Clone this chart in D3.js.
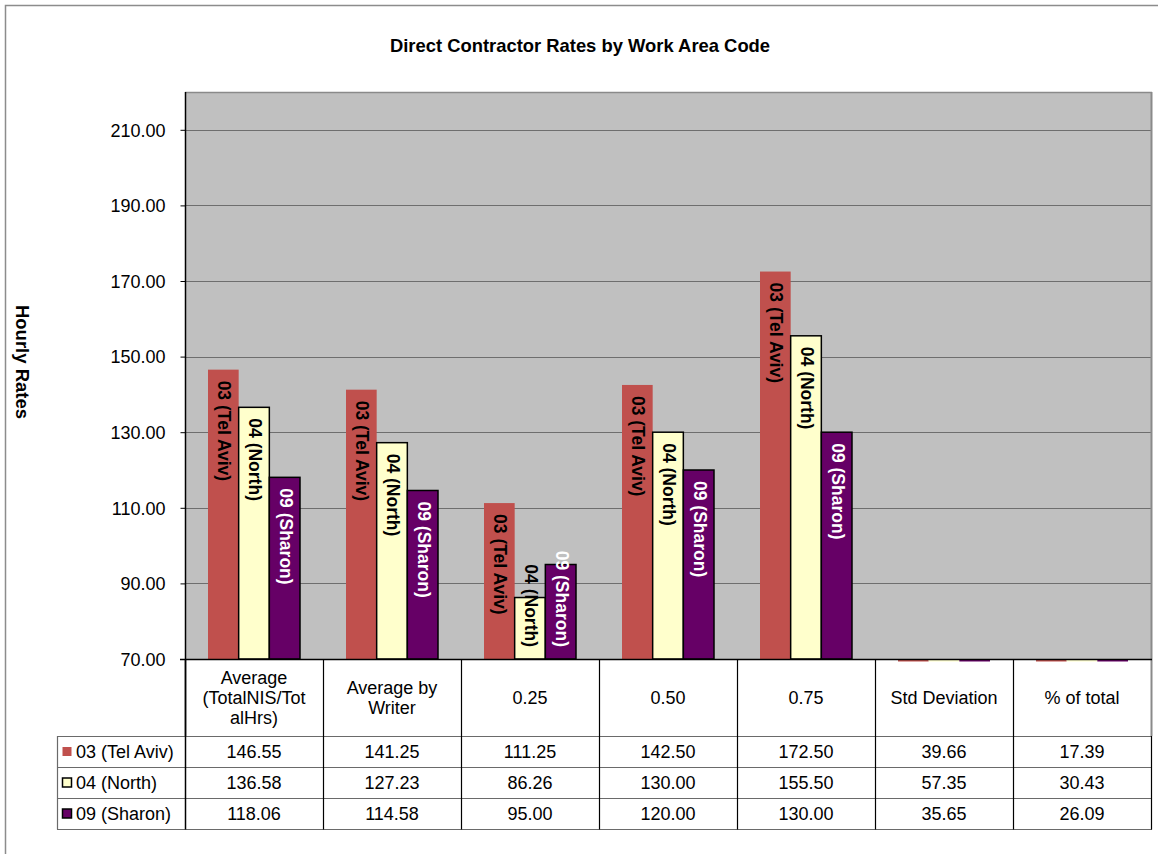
<!DOCTYPE html>
<html>
<head>
<meta charset="utf-8">
<script src="https://cdn.jsdelivr.net/npm/d3@7"></script>
<style>
  html, body { margin: 0; padding: 0; background: #fff; }
  svg { display: block; font-family: "Liberation Sans", Arial, sans-serif; }
</style>
</head>
<body>
<svg id="chart" width="1158" height="854"></svg>
<script>
// ---- data ----
const categories = ["Average (TotalNIS/TotalHrs)", "Average by Writer", "0.25", "0.50", "0.75", "Std Deviation", "% of total"];
const seriesNames = ["03 (Tel Aviv)", "04 (North)", "09 (Sharon)"];
const telAviv = [146.55, 141.25, 111.25, 142.50, 172.50, 39.66, 17.39];
const north   = [136.58, 127.23, 86.26, 130.00, 155.50, 57.35, 30.43];
const sharon  = [118.06, 114.58, 95.00, 120.00, 130.00, 35.65, 26.09];
const yTicks  = [70, 90, 110, 130, 150, 170, 190, 210];
const yDomain = [70, 220];
const title = "Direct Contractor Rates by Work Area Code";
const yTitle = "Hourly Rates";

// ---- styles ----
const colors = ["#C0504D", "#FFFFCC", "#660066"];
const strokes = ["none", "#000", "#000"];
const labelColors = ["#000", "#000", "#fff"];
const seriesValues = [telAviv, north, sharon];

const svg = d3.select("#chart");
const plot = { left: 185, right: 1151, top: 92, bottom: 659 };
const table = { legendLeft: 57, headerBottom: 736, rowH: 31 };

// outer frame
svg.append("rect").attr("x", 5.5).attr("y", 5.5).attr("width", 1170).attr("height", 870)
  .attr("fill", "#fff").attr("stroke", "#8c8c8c").attr("stroke-width", 1.5);

// title
svg.append("text").attr("x", 580).attr("y", 52)
  .attr("text-anchor", "middle").attr("font-size", 18.4).attr("font-weight", "bold")
  .text(title);

// y title
svg.append("text").attr("transform", "translate(22,362) rotate(90)")
  .attr("text-anchor", "middle").attr("dominant-baseline", "central")
  .attr("font-size", 18.5).attr("font-weight", "bold").text(yTitle);

const y = d3.scaleLinear().domain(yDomain).range([plot.bottom, plot.top]);
const x0 = d3.scaleBand().domain(categories).range([plot.left, plot.right]).paddingInner(0).paddingOuter(0);
const gapRatio = 1.5; // Excel gap width 150%
const barW = x0.bandwidth() / (seriesNames.length + gapRatio);
const x1 = d3.scaleBand().domain(seriesNames)
  .range([barW * gapRatio / 2, barW * gapRatio / 2 + barW * seriesNames.length]).padding(0);

// plot background
svg.append("rect").attr("x", plot.left).attr("y", plot.top)
  .attr("width", plot.right - plot.left).attr("height", plot.bottom - plot.top)
  .attr("fill", "#C0C0C0");

// gridlines
svg.append("g").selectAll("line").data(yTicks.filter(t => t > yDomain[0])).join("line")
  .attr("x1", plot.left).attr("x2", plot.right)
  .attr("y1", d => Math.round(y(d)) + 0.5).attr("y2", d => Math.round(y(d)) + 0.5)
  .attr("stroke", "#6e6e6e").attr("stroke-width", 1);

// plot border (top & right)
svg.append("line").attr("x1", plot.left).attr("x2", plot.right + 1).attr("y1", plot.top + 0.5).attr("y2", plot.top + 0.5)
  .attr("stroke", "#8a8a8a").attr("stroke-width", 1.5);
svg.append("line").attr("x1", plot.right + 0.5).attr("x2", plot.right + 0.5).attr("y1", plot.top).attr("y2", table.headerBottom)
  .attr("stroke", "#8a8a8a").attr("stroke-width", 2);

// y axis
const yAxis = d3.axisLeft(y).tickValues(yTicks).tickFormat(d3.format(".2f")).tickSize(5).tickPadding(15);
const gy = svg.append("g").attr("transform", `translate(${plot.left + 0.5},0)`).call(yAxis);
gy.select(".domain").remove();
gy.selectAll(".tick line").attr("stroke", "#000");
gy.selectAll(".tick text").attr("font-size", 18).attr("fill", "#000")
  .attr("font-family", "'Liberation Sans', Arial, sans-serif").attr("dy", "0.35em");

// bars
const groups = svg.append("g").selectAll("g").data(categories).join("g")
  .attr("transform", d => `translate(${x0(d)},0)`);

seriesNames.forEach((s, si) => {
  groups.append("rect")
    .attr("x", x1(s))
    .attr("width", x1.bandwidth())
    .attr("y", (d, ci) => {
      const v = seriesValues[si][ci];
      return v >= yDomain[0] ? y(v) : y(yDomain[0]);
    })
    .attr("height", (d, ci) => {
      const v = seriesValues[si][ci];
      return v >= yDomain[0] ? y(yDomain[0]) - y(v) : 2.5;
    })
    .attr("fill", colors[si])
    .attr("stroke", (d, ci) => seriesValues[si][ci] >= yDomain[0] ? strokes[si] : "none")
    .attr("stroke-width", 1.5);
});

// data labels (rotated)
seriesNames.forEach((s, si) => {
  groups.each(function (d, ci) {
    const v = seriesValues[si][ci];
    if (v < yDomain[0]) return;
    const cx = x1(s) + x1.bandwidth() / 2;
    const t = d3.select(this).append("text")
      .attr("font-size", 17.5).attr("font-weight", "bold")
      .attr("fill", labelColors[si]).attr("dominant-baseline", "central")
      .text(s);
    const len = t.node().getComputedTextLength();
    let start = y(v) + 11;
    const maxEnd = y(yDomain[0]) - 12;
    if (start + len > maxEnd) start = maxEnd - len;
    t.attr("transform", `translate(${cx + 1},${start}) rotate(90)`);
  });
});

// ---- data table ----
const nRows = seriesNames.length;
const tableBottom = table.headerBottom + nRows * table.rowH;
const hLineColor = "#6a6a6a";

// header text with wrapping
function wrapLines(text, maxW, fontSize) {
  const tmp = svg.append("text").attr("font-size", fontSize);
  const measure = s => { tmp.text(s); return tmp.node().getComputedTextLength(); };
  const words = text.split(" ");
  const lines = [];
  let cur = "";
  words.forEach(w => {
    const trial = cur ? cur + " " + w : w;
    if (measure(trial) <= maxW) { cur = trial; return; }
    if (cur) { lines.push(cur); cur = ""; }
    let piece = "";
    for (const ch of w) {
      if (measure(piece + ch) <= maxW) piece += ch;
      else { lines.push(piece); piece = ch; }
    }
    cur = piece;
  });
  if (cur) lines.push(cur);
  tmp.remove();
  return lines;
}

const headerMid = (plot.bottom + table.headerBottom) / 2;
categories.forEach(c => {
  const lines = wrapLines(c, 112, 18);
  const cx = x0(c) + x0.bandwidth() / 2;
  const t = svg.append("text").attr("text-anchor", "middle").attr("font-size", 18);
  lines.forEach((ln, i) => {
    t.append("tspan").attr("x", cx)
      .attr("y", headerMid + 6 + (i - (lines.length - 1) / 2) * 20)
      .text(ln);
  });
});

// horizontal table lines
for (let r = 0; r <= nRows; r++) {
  const yy = table.headerBottom + r * table.rowH + 0.5;
  svg.append("line").attr("x1", table.legendLeft).attr("x2", plot.right + 1)
    .attr("y1", yy).attr("y2", yy).attr("stroke", hLineColor).attr("stroke-width", 1.2);
}
// legend column left border
svg.append("line").attr("x1", table.legendLeft + 0.5).attr("x2", table.legendLeft + 0.5)
  .attr("y1", table.headerBottom).attr("y2", tableBottom + 0.5)
  .attr("stroke", hLineColor).attr("stroke-width", 1.2);

// vertical lines (category boundaries) - only in the table
const bounds = categories.map(c => x0(c)).concat([plot.right]);
bounds.forEach((bx, i) => {
  const last = i === bounds.length - 1;
  svg.append("line").attr("x1", Math.round(bx) + 0.5).attr("x2", Math.round(bx) + 0.5)
    .attr("y1", last ? table.headerBottom : plot.bottom).attr("y2", tableBottom + 0.5)
    .attr("stroke", "#000").attr("stroke-width", i === 0 ? 1.5 : 1.2);
});
// x axis line
svg.append("line").attr("x1", plot.left - 5).attr("x2", plot.right + 1)
  .attr("y1", plot.bottom + 0.5).attr("y2", plot.bottom + 0.5)
  .attr("stroke", "#000").attr("stroke-width", 1.5);

// y axis line
svg.append("line").attr("x1", plot.left + 0.5).attr("x2", plot.left + 0.5)
  .attr("y1", plot.top).attr("y2", table.headerBottom)
  .attr("stroke", "#000").attr("stroke-width", 1.5);

// rows: legend key + values
seriesNames.forEach((s, si) => {
  const rowMid = table.headerBottom + si * table.rowH + table.rowH / 2;
  svg.append("rect").attr("x", 62.5).attr("y", rowMid - 4.5).attr("width", 9).attr("height", 9)
    .attr("fill", colors[si]).attr("stroke", strokes[si]).attr("stroke-width", 1.5);
  svg.append("text").attr("x", 76).attr("y", rowMid + 6.5).attr("font-size", 18).text(s);
  categories.forEach((c, ci) => {
    svg.append("text").attr("x", x0(c) + x0.bandwidth() / 2).attr("y", rowMid + 6.5)
      .attr("text-anchor", "middle").attr("font-size", 18)
      .text(d3.format(".2f")(seriesValues[si][ci]));
  });
});
</script>
</body>
</html>
